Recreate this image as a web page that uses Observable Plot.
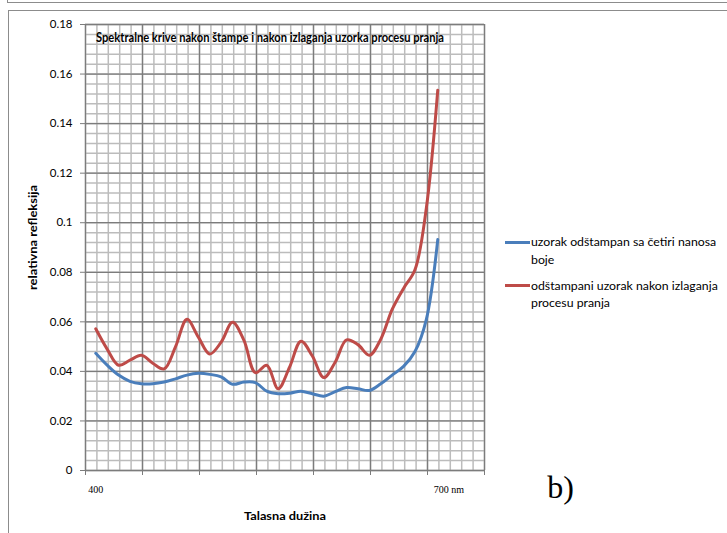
<!DOCTYPE html>
<html><head><meta charset="utf-8">
<script src="https://cdn.jsdelivr.net/npm/d3@7"></script>
<script src="https://cdn.jsdelivr.net/npm/@observablehq/plot@0.6"></script>
<style>
body{margin:0;background:#fff;}
#wrap{position:relative;width:727px;height:533px;overflow:hidden;background:#fff;}
#wrap svg{position:absolute;left:0;top:0;}
.box1{position:absolute;left:7px;top:-30px;width:800px;height:31px;border:1.5px solid #8c8c8c;}
.box2{position:absolute;left:8px;top:10px;width:800px;height:600px;border:1.5px solid #8c8c8c;}
#legend{position:absolute;left:505px;top:233px;font-family:Lato,"Liberation Sans",sans-serif;font-size:12.3px;color:#000;}
.item{position:absolute;left:0;width:222px;}
.sw{position:absolute;left:0;width:25px;height:3px;}
.lbl{position:absolute;left:26px;line-height:17.7px;white-space:nowrap;}
</style></head>
<body>
<div id="wrap"><div class="box1"></div><div class="box2"></div></div>
<script>
// ---- data ----
const wavelengths = [400,410,420,430,440,450,460,470,480,490,500,510,520,530,540,550,560,570,580,590,600,610,620,630,640,650,660,670,680,690,700];
const uzorakStampan = [0.0473,0.0425,0.0385,0.0360,0.0350,0.0350,0.0357,0.0370,0.0385,0.0392,0.0388,0.0378,0.0348,0.0357,0.0355,0.0320,0.0310,0.0312,0.0320,0.0310,0.0300,0.0318,0.0335,0.0330,0.0323,0.0350,0.0385,0.0420,0.0480,0.0610,0.0932];
const uzorakPranje = [0.0572,0.0490,0.0425,0.0445,0.0465,0.0433,0.0410,0.0500,0.0610,0.0538,0.0470,0.0518,0.0598,0.0525,0.0395,0.0425,0.0330,0.0417,0.0522,0.0462,0.0375,0.0437,0.0527,0.0508,0.0465,0.0530,0.0650,0.0735,0.0810,0.1060,0.1535];
const seriesNames = ["uzorak odštampan sa četiri nanosa boje","odštampani uzorak nakon izlaganja procesu pranja"];
const legendLines = [["uzorak odštampan sa četiri nanosa","boje"],["odštampani uzorak nakon izlaganja","procesu pranja"]];
const seriesColors = ["#4a7ebb","#be4b48"];
const yTicks = [0,0.02,0.04,0.06,0.08,0.1,0.12,0.14,0.16,0.18];
const yTickLabels = ["0","0.02","0.04","0.06","0.08","0.1","0.12","0.14","0.16","0.18"];
const xLabelValues = [400,700];
const xLabelTexts = ["400","700 nm"];
const titleText = "Spektralne krive nakon štampe i nakon izlaganja uzorka procesu pranja";
const xTitle = "Talasna dužina";
const yTitle = "relativna refleksija";
const panelLabel = "b)";

// graph-paper grid (background of the original figure)
const xMinor = d3.range(391, 742, 10);
const xMajor = d3.range(391, 742, 50);
const yMinor = d3.range(0, 45.5, 1).map(k => k * 0.004);

const data = [];
wavelengths.forEach((w, i) => {
  data.push({w, v: uzorakStampan[i], s: seriesNames[0]});
});
wavelengths.forEach((w, i) => {
  data.push({w, v: uzorakPranje[i], s: seriesNames[1]});
});

const chart = Plot.plot({
  width: 727, height: 533,
  marginLeft: 85, marginRight: 243, marginTop: 24, marginBottom: 63,
  x: {domain: [391, 741], axis: null},
  y: {domain: [0, 0.18], axis: null},
  color: {domain: seriesNames, range: seriesColors},
  style: {fontFamily: "Lato, 'Liberation Sans', sans-serif", background: "transparent", color: "#000", overflow: "visible"},
  marks: [
    Plot.ruleX(xMinor, {stroke: "#bcbcbc", strokeWidth: 1.5}),
    Plot.ruleY(yMinor, {stroke: "#bcbcbc", strokeWidth: 1.5}),
    Plot.ruleX(xMajor, {stroke: "#7c7c7c", strokeWidth: 1.3}),
    Plot.ruleY(yTicks, {stroke: "#7c7c7c", strokeWidth: 1.3}),
    Plot.axisY({ticks: yTicks, tickFormat: d => yTickLabels[yTicks.indexOf(d)], tickSize: 5, tickPadding: 8, fontSize: 11.5, stroke: "#7c7c7c", fill: "#000", label: null}),
    Plot.axisX({ticks: xMajor, tickFormat: () => "", tickSize: 5, stroke: "#7c7c7c", label: null}),
    Plot.line(data, {x: "w", y: "v", z: "s", stroke: "s", strokeWidth: 3, curve: "catmull-rom"}),
    Plot.text([titleText], {text: d => d, frameAnchor: "top", dx: -15, dy: 8, fontWeight: "bold", fontSize: 13.5, fill: "#000"}),
    Plot.text([yTitle], {text: d => d, frameAnchor: "left", textAnchor: "middle", rotate: -90, dx: -52, dy: -10, fontWeight: "bold", fontSize: 11, fill: "#000"}),
    Plot.text([xTitle], {text: d => d, frameAnchor: "bottom", dx: 0, dy: 49, fontWeight: "bold", fontSize: 11, fill: "#000"}),
    Plot.text([xLabelValues[0]], {x: d => d, text: (d, i) => xLabelTexts[0], frameAnchor: "bottom", dy: 22, fontSize: 10, fontFamily: "'Liberation Serif', serif", fill: "#000"}),
    Plot.text([xLabelValues[1]], {x: d => d, text: (d, i) => xLabelTexts[1], frameAnchor: "bottom", dy: 22, dx: -4, textAnchor: "start", fontSize: 10, fontFamily: "'Liberation Serif', serif", fill: "#000"}),
    Plot.text([panelLabel], {text: d => d, frameAnchor: "bottom-right", textAnchor: "middle", dx: 76, dy: 27, fontSize: 32, fontFamily: "'Liberation Serif', serif", fill: "#000"})
  ]
});
document.getElementById("wrap").appendChild(chart);

// fit Calibri-like widths of the original texts
const fitWidths = new Map([[titleText, 348], [yTitle, 105], [xTitle, 82]]);
chart.querySelectorAll("text").forEach(t => {
  const w = fitWidths.get(t.textContent);
  if (w) { t.setAttribute("textLength", w); t.setAttribute("lengthAdjust", "spacingAndGlyphs"); }
});

// legend
const leg = document.createElement("div");
leg.id = "legend";
legendLines.forEach((lines, i) => {
  const it = document.createElement("div");
  it.className = "item";
  it.style.top = (i * 43.5) + "px";
  const sw = document.createElement("div");
  sw.className = "sw";
  sw.style.background = seriesColors[i];
  sw.style.top = "7.5px";
  const lb = document.createElement("div");
  lb.className = "lbl";
  lb.innerHTML = lines.join("<br>");
  it.appendChild(sw); it.appendChild(lb);
  leg.appendChild(it);
});
document.getElementById("wrap").appendChild(leg);
</script>
</body></html>
